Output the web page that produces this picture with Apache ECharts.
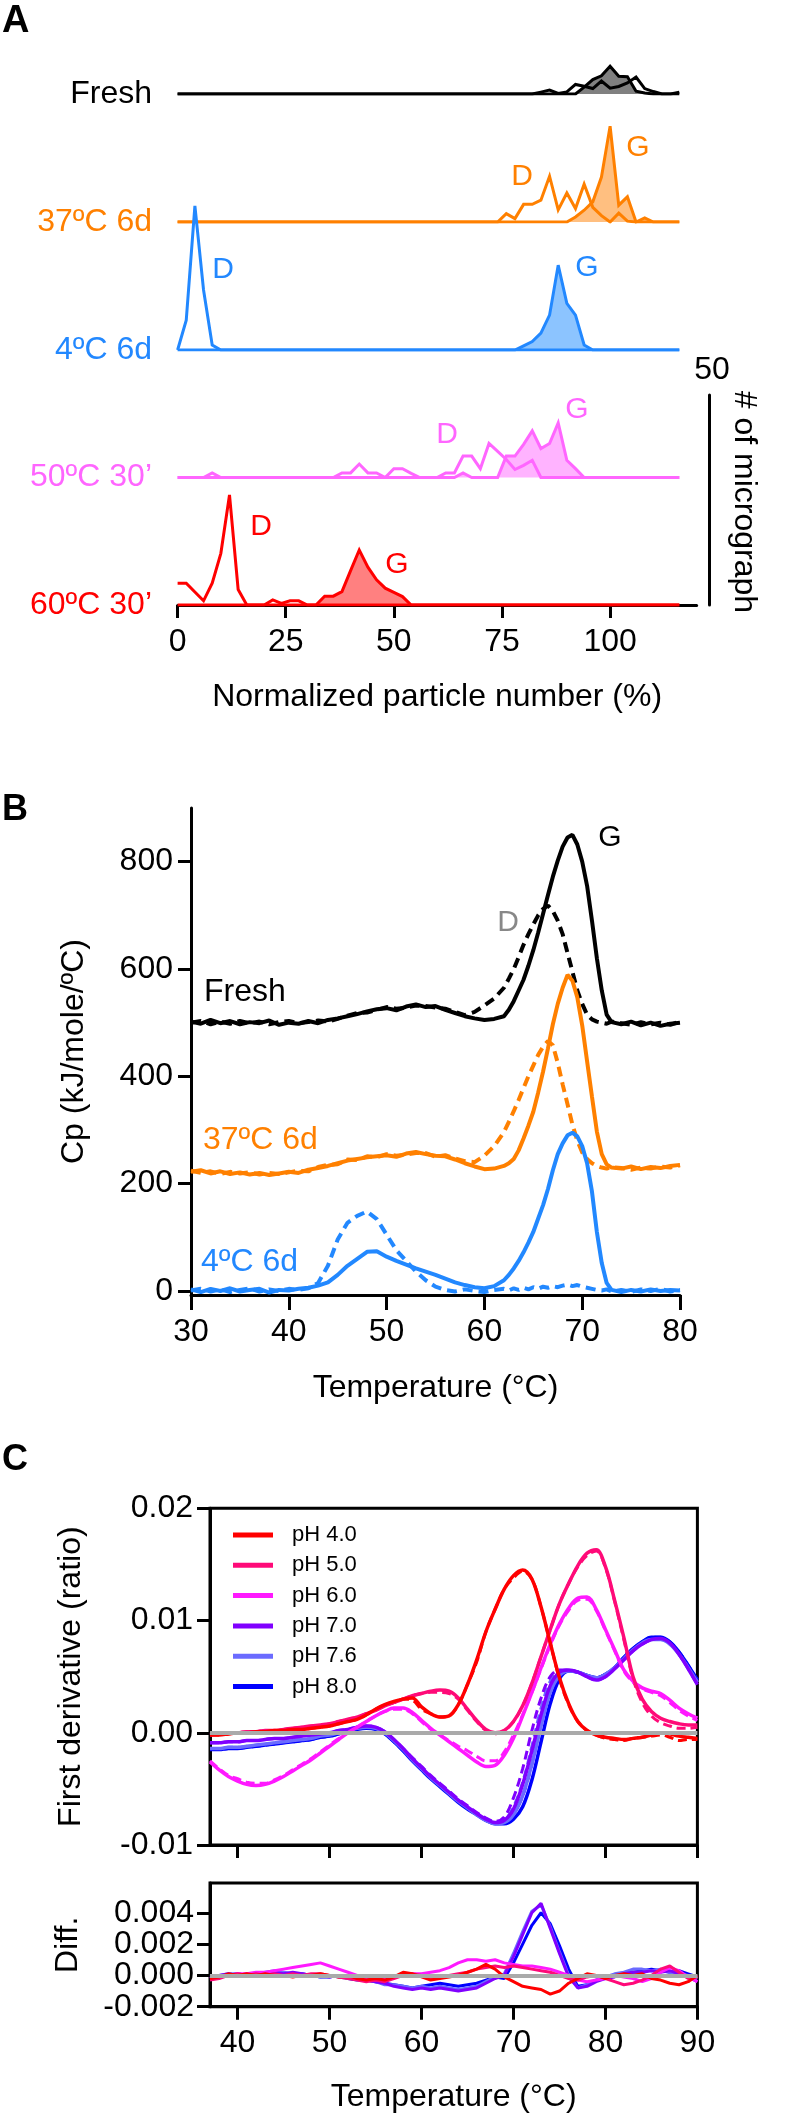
<!DOCTYPE html>
<html>
<head>
<meta charset="utf-8">
<script src="https://cdn.jsdelivr.net/npm/echarts@6/dist/echarts.min.js"></script>
<style>html,body{margin:0;padding:0;background:#fff}#c{width:797px;height:2114px}</style>
</head>
<body>
<div id="c"></div>
<script>
// ---------- Panel A data (histograms, # of micrographs per bin) ----------
const binsA = [0,2,4,6,8,10,12,14,16,18,20,22,24,26,28,30,32,34,36,38,40,42,44,46,48,50,52,54,56,58,60,62,64,66,68,70,72,74,76,78,80,82,84,86,88,90,92,94,96,98,100,102,104,106,108,110,112,114,116];
const ticksA = [0,25,50,75,100];
const freshG = [0,0,0,0,0,0,0,0,0,0,0,0,0,0,0,0,0,0,0,0,0,0,0,0,0,0,0,0,0,0,0,0,0,0,0,0,0,0,0,0,0,0,0,0,0,0,0,3.7,7.7,9.7,14.8,9.4,9.2,1.5,0.5,0,0,0,0];
const freshD = [0,0,0,0,0,0,0,0,0,0,0,0,0,0,0,0,0,0,0,0,0,0,0,0,0,0,0,0,0,0,0,0,0,0,0,0,0,0,0,0,0,0,1.0,2.1,0.3,1.1,5.1,4.1,2.9,6.9,3.1,4.0,5.9,9.0,2.9,1.3,0,0,1.0];
const d37G = [0,0,0,0,0,0,0,0,0,0,0,0,0,0,0,0,0,0,0,0,0,0,0,0,0,0,0,0,0,0,0,0,0,0,0,0,0,0,0,0,0,0,0,0,0,0,1.2,2.8,4.8,10.7,22.8,4.0,6.0,0,1.0,0,0,0,0];
const d37D = [0,0,0,0,0,0,0,0,0,0,0,0,0,0,0,0,0,0,0,0,0,0,0,0,0,0,0,0,0,0,0,0,0,0,0,0,0,0,2.0,0.8,4.2,4.2,5.2,10.9,2.9,6.9,3.2,9.0,3.5,1.5,0,2.1,0.2,0,0,0,0,0,0];
const d4G = [0,0,0,0,0,0,0,0,0,0,0,0,0,0,0,0,0,0,0,0,0,0,0,0,0,0,0,0,0,0,0,0,0,0,0,0,0,0,0,0,1.0,2.0,4.0,8.3,20.2,11.1,8.3,1.2,0,0,0,0,0,0,0,0,0,0,0];
const d4D = [0,7.1,34.3,14.3,1.2,0,0,0,0,0,0,0,0,0,0,0,0,0,0,0,0,0,0,0,0,0,0,0,0,0,0,0,0,0,0,0,0,0,0,0,0,0,0,0,0,0,0,0,0,0,0,0,0,0,0,0,0,0,0];
const m50G = [0,0,0,0,0,0,0,0,0,0,0,0,0,0,0,0,0,0,0,0,0,0,0,0,0,0,0,0,0,0,0,0,0,1.1,0,0,0,0,5.1,5.1,7.9,11.1,6.9,8.1,13.0,4.1,2.1,0,0,0,0,0,0,0,0,0,0,0,0];
const m50D = [0,0,0,0,1.1,0,0,0,0,0,0,0,0,0,0,0,0,0,0,1.1,1.1,3.2,1.1,1.1,0,2.1,2.1,1.0,0,0,0,1.1,1.1,5.1,5.1,2.1,8.1,6.2,4.3,1.9,2.9,4.1,0,0,0,0,0,0,0,0,0,0,0,0,0,0,0,0,0];
const m60G = [0,0,0,0,0,0,0,0,0,0,0,0,0,0,0,0,0,2.1,2.1,3.2,8.2,13.1,9.0,6.0,4.0,3.0,2.0,0,0,0,0,0,0,0,0,0,0,0,0,0,0,0,0,0,0,0,0,0,0,0,0,0,0,0,0,0,0,0,0];
const m60D = [5.2,5.2,3.1,1.0,5.2,12.3,26.2,3.7,0,0,0,1.2,0.4,1.0,1.0,0,0,0,0,0,0,0,0,0,0,0,0,0,0,0,0,0,0,0,0,0,0,0,0,0,0,0,0,0,0,0,0,0,0,0,0,0,0,0,0,0,0,0,0];
const condA = ['Fresh','37ºC 6d','4ºC 6d','50ºC 30’','60ºC 30’'];

// ---------- Panel B data (DSC, Cp in kJ/mole/ºC) ----------
const tempB = [30,31,32,33,34,35,36,37,38,39,40,41,42,43,44,45,46,47,48,49,50,51,52,53,54,55,56,57,58,59,60,61,62,62.5,63,63.5,64,64.5,65,65.5,66,66.5,67,67.5,68,68.5,69,69.5,70,70.5,71,71.5,72,72.5,73,74,75,76,77,78,79,80];
const cpFreshG = [502,498,505,499,503,497,501,499,504,496,500,498,503,499,505,508,512,516,521,525,527,523,530,534,529,531,524,518,512,508,505,507,512,524,540,560,580,606,635,668,703,738,772,802,828,845,850,832,800,755,690,620,560,515,501,497,502,495,500,494,498,500];
const cpFreshD = [500,503,497,502,498,503,499,502,497,501,503,499,501,504,502,507,513,518,519,524,529,526,528,532,531,528,526,520,514,520,532,545,565,582,600,622,645,665,683,700,712,718,708,690,665,630,595,560,535,515,506,502,500,498,502,499,496,501,497,500,496,502];
const cp37G = [222,225,219,223,218,221,217,220,216,219,222,220,226,229,233,238,243,246,249,251,253,250,256,259,255,252,251,245,238,232,227,228,233,238,246,262,284,308,334,370,409,452,497,535,565,589,578,547,495,428,362,297,255,236,230,228,232,227,231,229,233,235];
const cp37D = [224,220,223,218,222,219,221,217,220,218,221,224,223,231,235,236,245,244,251,249,255,252,254,257,257,250,253,247,242,240,252,270,296,315,335,356,378,400,420,440,455,466,458,425,385,348,310,280,258,246,238,233,230,228,231,229,226,230,228,232,230,234];
const cp4G = [3,-2,4,0,5,-1,2,4,-3,2,1,4,6,10,16,30,47,60,73,74,64,56,49,42,36,30,23,16,11,7,5,9,20,30,42,56,72,90,110,135,160,190,225,255,275,290,295,288,270,238,185,110,52,15,2,-2,2,-1,3,0,2,1];
const cp4D = [1,4,-1,3,-2,2,5,-1,3,0,4,2,5,15,47,96,127,140,148,134,105,76,56,36,20,8,2,-1,3,0,-2,2,4,1,5,2,6,3,7,4,8,6,9,7,10,12,9,11,8,6,4,2,1,3,-1,2,-2,3,0,4,-1,2];
const ticksBy = [0,200,400,600,800];

// ---------- Panel C data (first derivative of ratio) ----------
const tempC = [37,38,39,40,41,42,43,44,45,46,47,48,49,50,51,52,53,54,55,56,57,58,59,60,61,62,63,64,65,66,67,68,69,70,71,72,73,74,75,76,77,78,79,80,81,82,83,84,85,86,87,88,89,90];
const phNames = ['pH 4.0','pH 5.0','pH 6.0','pH 7.0','pH 7.6','pH 8.0'];
const fd40 = [-0.0002,-0.0002,-0.0001,0.0000,0.0000,0.0001,0.0001,0.0002,0.0002,0.0003,0.0003,0.0004,0.0005,0.0006,0.0008,0.0010,0.0012,0.0016,0.0021,0.0025,0.0028,0.0030,0.0031,0.0023,0.0017,0.0014,0.0015,0.0025,0.0043,0.0065,0.0090,0.0110,0.0128,0.0140,0.0145,0.0137,0.0112,0.0080,0.0049,0.0026,0.0010,0.0002,-0.0002,-0.0004,-0.0005,-0.0006,-0.0005,-0.0004,-0.0002,0.0000,-0.0001,-0.0003,-0.0004,-0.0005];
const fd40b = [-0.0002,-0.0002,-0.0001,0.0000,0.0000,0.0001,0.0001,0.0002,0.0002,0.0003,0.0003,0.0004,0.0005,0.0006,0.0008,0.0010,0.0012,0.0016,0.0021,0.0025,0.0027,0.0030,0.0029,0.0021,0.0017,0.0014,0.0015,0.0025,0.0043,0.0063,0.0090,0.0110,0.0128,0.0138,0.0144,0.0137,0.0112,0.0080,0.0048,0.0025,0.0010,0.0002,-0.0002,-0.0005,-0.0006,-0.0007,-0.0005,-0.0004,-0.0003,-0.0002,-0.0004,-0.0007,-0.0006,-0.0006];
const fd50 = [-0.0002,-0.0001,0.0000,0.0000,0.0001,0.0001,0.0002,0.0002,0.0003,0.0004,0.0005,0.0006,0.0007,0.0008,0.0010,0.0012,0.0014,0.0017,0.0020,0.0024,0.0027,0.0030,0.0033,0.0035,0.0037,0.0038,0.0037,0.0031,0.0021,0.0011,0.0003,0.0000,0.0002,0.0010,0.0024,0.0044,0.0068,0.0092,0.0115,0.0133,0.0149,0.0160,0.0163,0.0148,0.0118,0.0085,0.0050,0.0030,0.0019,0.0013,0.0010,0.0008,0.0007,0.0007];
const fd50b = [-0.0002,-0.0001,0.0000,0.0000,0.0001,0.0001,0.0002,0.0002,0.0003,0.0004,0.0005,0.0006,0.0007,0.0008,0.0010,0.0012,0.0014,0.0017,0.0020,0.0024,0.0027,0.0030,0.0033,0.0035,0.0036,0.0036,0.0035,0.0030,0.0020,0.0010,0.0002,-0.0001,0.0002,0.0010,0.0024,0.0044,0.0068,0.0092,0.0115,0.0133,0.0148,0.0158,0.0162,0.0147,0.0117,0.0083,0.0048,0.0027,0.0015,0.0009,0.0006,0.0004,0.0004,0.0005];
const fd60 = [-0.0026,-0.0033,-0.0039,-0.0043,-0.0046,-0.0047,-0.0046,-0.0043,-0.0039,-0.0034,-0.0029,-0.0024,-0.0018,-0.0012,-0.0006,0.0000,0.0005,0.0010,0.0015,0.0019,0.0022,0.0022,0.0018,0.0011,0.0004,-0.0002,-0.0008,-0.0014,-0.0020,-0.0026,-0.0030,-0.0029,-0.0020,-0.0005,0.0015,0.0036,0.0058,0.0079,0.0097,0.0111,0.0120,0.0121,0.0110,0.0092,0.0074,0.0056,0.0046,0.0040,0.0037,0.0035,0.0029,0.0022,0.0017,0.0013];
const fd60b = [-0.0025,-0.0032,-0.0038,-0.0041,-0.0044,-0.0045,-0.0045,-0.0042,-0.0038,-0.0033,-0.0028,-0.0023,-0.0017,-0.0011,-0.0005,0.0000,0.0005,0.0010,0.0015,0.0019,0.0021,0.0021,0.0017,0.0010,0.0003,-0.0002,-0.0007,-0.0012,-0.0016,-0.0021,-0.0025,-0.0025,-0.0017,-0.0002,0.0016,0.0036,0.0057,0.0078,0.0096,0.0109,0.0118,0.0119,0.0109,0.0091,0.0073,0.0055,0.0045,0.0039,0.0036,0.0033,0.0027,0.0020,0.0015,0.0011];
const fd70 = [-0.0009,-0.0009,-0.0008,-0.0008,-0.0007,-0.0007,-0.0006,-0.0005,-0.0005,-0.0004,-0.0003,-0.0002,-0.0001,0.0000,0.0002,0.0003,0.0005,0.0006,0.0005,0.0001,-0.0006,-0.0014,-0.0023,-0.0031,-0.0039,-0.0046,-0.0053,-0.0060,-0.0066,-0.0072,-0.0077,-0.0080,-0.0078,-0.0068,-0.0046,-0.0016,0.0016,0.0042,0.0054,0.0056,0.0054,0.0050,0.0047,0.0050,0.0057,0.0065,0.0073,0.0079,0.0083,0.0084,0.0080,0.0070,0.0057,0.0043];
const fd70b = [-0.0009,-0.0009,-0.0008,-0.0008,-0.0007,-0.0007,-0.0006,-0.0005,-0.0005,-0.0004,-0.0003,-0.0002,-0.0001,0.0000,0.0002,0.0003,0.0005,0.0006,0.0005,0.0001,-0.0006,-0.0014,-0.0022,-0.0030,-0.0038,-0.0045,-0.0052,-0.0059,-0.0065,-0.0071,-0.0076,-0.0079,-0.0075,-0.0058,-0.0032,0.0002,0.0031,0.0050,0.0056,0.0056,0.0054,0.0050,0.0047,0.0050,0.0057,0.0065,0.0073,0.0079,0.0083,0.0084,0.0080,0.0070,0.0057,0.0043];
const fd76 = [-0.0014,-0.0014,-0.0013,-0.0013,-0.0012,-0.0011,-0.0010,-0.0009,-0.0008,-0.0007,-0.0006,-0.0005,-0.0003,-0.0002,0.0000,0.0002,0.0004,0.0005,0.0004,0.0000,-0.0007,-0.0015,-0.0024,-0.0032,-0.0040,-0.0047,-0.0054,-0.0061,-0.0067,-0.0073,-0.0078,-0.0081,-0.0080,-0.0073,-0.0056,-0.0028,0.0006,0.0036,0.0051,0.0055,0.0054,0.0051,0.0049,0.0052,0.0058,0.0066,0.0074,0.0080,0.0083,0.0083,0.0079,0.0070,0.0058,0.0045];
const fd76b = [-0.0014,-0.0014,-0.0013,-0.0013,-0.0012,-0.0011,-0.0010,-0.0009,-0.0008,-0.0007,-0.0006,-0.0005,-0.0003,-0.0002,0.0000,0.0002,0.0004,0.0005,0.0004,0.0000,-0.0007,-0.0015,-0.0023,-0.0031,-0.0039,-0.0046,-0.0053,-0.0060,-0.0066,-0.0072,-0.0077,-0.0080,-0.0078,-0.0066,-0.0044,-0.0012,0.0022,0.0046,0.0054,0.0055,0.0054,0.0051,0.0049,0.0052,0.0058,0.0066,0.0074,0.0080,0.0083,0.0083,0.0079,0.0070,0.0058,0.0045];
const fd80 = [-0.0015,-0.0015,-0.0014,-0.0014,-0.0013,-0.0012,-0.0011,-0.0010,-0.0009,-0.0008,-0.0007,-0.0006,-0.0004,-0.0003,-0.0001,0.0001,0.0003,0.0004,0.0003,-0.0001,-0.0008,-0.0016,-0.0025,-0.0033,-0.0041,-0.0048,-0.0055,-0.0062,-0.0068,-0.0073,-0.0078,-0.0081,-0.0081,-0.0077,-0.0066,-0.0042,-0.0008,0.0026,0.0048,0.0055,0.0054,0.0051,0.0049,0.0052,0.0058,0.0067,0.0075,0.0081,0.0085,0.0085,0.0081,0.0072,0.0060,0.0047];
const fd80b = [-0.0015,-0.0015,-0.0014,-0.0014,-0.0013,-0.0012,-0.0011,-0.0010,-0.0009,-0.0008,-0.0007,-0.0006,-0.0004,-0.0003,-0.0001,0.0001,0.0003,0.0004,0.0003,-0.0001,-0.0008,-0.0016,-0.0024,-0.0032,-0.0040,-0.0047,-0.0054,-0.0061,-0.0067,-0.0072,-0.0077,-0.0080,-0.0080,-0.0072,-0.0056,-0.0028,0.0008,0.0038,0.0053,0.0055,0.0054,0.0051,0.0049,0.0052,0.0058,0.0067,0.0075,0.0081,0.0085,0.0085,0.0081,0.0072,0.0060,0.0047];
// difference curves
const df40 = [-0.0002,-0.0001,0.0001,0.0000,0.0001,0.0000,0.0001,0.0000,0.0000,-0.0001,0.0000,0.0000,0.0001,0.0000,-0.0001,0.0000,-0.0002,-0.0003,-0.0002,-0.0003,-0.0001,0.0002,0.0001,-0.0001,-0.0003,-0.0002,-0.0001,0.0000,0.0002,0.0004,0.0007,0.0004,-0.0001,-0.0004,-0.0007,-0.0008,-0.0009,-0.0012,-0.0010,-0.0005,-0.0002,0.0001,0.0000,-0.0002,0.0000,0.0001,0.0000,0.0001,-0.0002,-0.0003,-0.0005,-0.0006,-0.0004,0.0000];
const df50 = [-0.0003,-0.0002,0.0000,0.0001,0.0000,0.0001,0.0000,0.0001,0.0000,0.0001,0.0000,0.0001,0.0001,0.0000,-0.0001,-0.0002,-0.0003,-0.0004,-0.0003,-0.0004,-0.0002,0.0000,0.0001,0.0000,-0.0002,-0.0001,0.0000,0.0001,0.0002,0.0004,0.0005,0.0006,0.0005,0.0006,0.0005,0.0004,0.0003,0.0002,0.0000,-0.0002,-0.0003,-0.0001,0.0000,-0.0002,-0.0004,-0.0006,-0.0005,-0.0003,0.0000,0.0004,0.0006,0.0002,-0.0002,-0.0001];
const df60 = [-0.0002,-0.0001,0.0000,0.0001,0.0001,0.0002,0.0002,0.0003,0.0004,0.0005,0.0006,0.0007,0.0008,0.0006,0.0004,0.0002,0.0000,-0.0002,-0.0003,-0.0002,-0.0001,0.0000,0.0001,0.0001,0.0002,0.0003,0.0005,0.0008,0.0010,0.0010,0.0009,0.0010,0.0008,0.0007,0.0006,0.0006,0.0005,0.0004,0.0002,0.0000,-0.0003,-0.0004,-0.0003,-0.0002,0.0000,-0.0001,-0.0002,-0.0004,-0.0002,0.0002,0.0005,0.0003,-0.0001,-0.0004];
const df70 = [-0.0002,0.0000,0.0001,0.0000,0.0001,0.0000,0.0001,0.0002,0.0001,0.0002,0.0001,0.0000,0.0000,-0.0001,0.0000,-0.0001,-0.0002,-0.0003,-0.0004,-0.0005,-0.0007,-0.0008,-0.0009,-0.0008,-0.0009,-0.0008,-0.0009,-0.0010,-0.0009,-0.0008,-0.0005,-0.0002,0.0000,0.0012,0.0026,0.0040,0.0046,0.0030,0.0014,-0.0001,-0.0008,-0.0007,-0.0004,-0.0002,-0.0001,0.0001,0.0002,0.0002,0.0003,0.0002,0.0003,0.0001,-0.0001,-0.0004];
const df76 = [-0.0001,0.0000,0.0001,0.0001,0.0000,0.0001,0.0002,0.0003,0.0002,0.0001,0.0001,0.0000,-0.0001,0.0000,-0.0001,-0.0002,-0.0002,-0.0003,-0.0004,-0.0006,-0.0006,-0.0007,-0.0008,-0.0007,-0.0008,-0.0007,-0.0008,-0.0009,-0.0008,-0.0007,-0.0004,-0.0001,0.0001,0.0014,0.0028,0.0041,0.0045,0.0031,0.0015,0.0000,-0.0008,-0.0006,-0.0003,-0.0001,0.0001,0.0002,0.0004,0.0004,0.0003,0.0004,0.0002,0.0001,0.0000,-0.0002];
const df80 = [-0.0002,-0.0001,0.0000,0.0001,0.0000,0.0001,0.0000,0.0001,0.0001,0.0000,0.0001,0.0000,-0.0001,-0.0001,0.0000,-0.0002,-0.0003,-0.0003,-0.0004,-0.0005,-0.0006,-0.0007,-0.0008,-0.0007,-0.0006,-0.0005,-0.0006,-0.0007,-0.0006,-0.0005,-0.0003,-0.0001,-0.0002,0.0008,0.0020,0.0032,0.0040,0.0033,0.0019,0.0004,-0.0007,-0.0006,-0.0003,-0.0001,0.0000,0.0001,0.0002,0.0003,0.0004,0.0003,0.0002,0.0003,0.0001,-0.0001];
const ticksCx = [40,50,60,70,80,90];
const ticksCdiffA = [-0.002,0.002];   // diff-axis ticks, split over two overlaid axes
const ticksCdiffB = [0,0.004];        // so the closely spaced labels are never auto-hidden

// ---------- styling / layout ----------
const FONT = "'Liberation Sans', Arial, Helvetica, sans-serif";
const colA = ['#000000','#FF8000','#2288FF','#FF66FF','#FF0000'];
const fillA = ['#808080','#FFBF80','#8CC4FF','#FFB3FF','#FF8080'];
const baseA = [94, 222, 350, 477.5, 605];
const colC = ['#FF0000','#FF0A78','#FF19FF','#8000FF','#6B6BFF','#0000FF'];

const zip = (xs, ys) => xs.map((x, k) => [x, ys[k]]);
const gA = [freshG, d37G, d4G, m50G, m60G];
const dA = [freshD, d37D, d4D, m50D, m60D];

const grid = [], xAxis = [], yAxis = [], series = [];
const txt = (extra) => Object.assign({color:'#000', fontFamily: FONT, fontSize: 32}, extra || {});

// Panel A grids
baseA.forEach((b, i) => {
  grid.push({left: 177.6, width: 519, top: b - 210, height: 210});
  const last = i === 4;
  xAxis.push({gridIndex: i, type: 'value', min: 0, max: 120, show: last,
    axisLine: {onZero: false, lineStyle: {color: '#000', width: 3}},
    axisTick: {customValues: ticksA, length: 13, lineStyle: {color: '#000', width: 3}},
    axisLabel: Object.assign(txt({margin: 21}), {customValues: ticksA}),
    splitLine: {show: false},
    name: last ? 'Normalized particle number (%)' : '', nameLocation: 'middle', nameGap: 76,
    nameTextStyle: txt()});
  // the last one acts as the 50-micrograph scale bar on the right
  yAxis.push({gridIndex: i, type: 'value', min: 0, max: 50, show: last, position: 'right', offset: 12.4,
    axisLine: {show: true, onZero: false, lineStyle: {color: '#000', width: 3}},
    axisTick: {show: false}, axisLabel: {show: false}, splitLine: {show: false}});
  series.push({type: 'line', name: condA[i] + ' G', xAxisIndex: i, yAxisIndex: i, data: zip(binsA, gA[i]),
    symbol: 'none', z: 2, lineStyle: {color: colA[i], width: 3, join: 'miter', miterLimit: 4},
    itemStyle: {color: colA[i]}, areaStyle: {color: fillA[i], opacity: 1}});
  series.push({type: 'line', name: condA[i] + ' D', xAxisIndex: i, yAxisIndex: i, data: zip(binsA, dA[i]),
    symbol: 'none', z: 3, lineStyle: {color: colA[i], width: 3, join: 'miter', miterLimit: 4},
    itemStyle: {color: colA[i]}});
});

// Panel B grid (index 5)
grid.push({left: 191, top: 808, width: 489, height: 487});
xAxis.push({gridIndex: 5, type: 'value', min: 30, max: 80, interval: 10,
  axisLine: {onZero: false, lineStyle: {color: '#000', width: 3}},
  axisTick: {length: 15, lineStyle: {color: '#000', width: 3}},
  axisLabel: txt({margin: 21}), splitLine: {show: false},
  name: 'Temperature (°C)', nameLocation: 'middle', nameGap: 77, nameTextStyle: txt()});
yAxis.push({gridIndex: 5, type: 'value', min: -7.5, max: 900,
  axisLine: {show: true, onZero: false, lineStyle: {color: '#000', width: 3}},
  axisTick: {show: true, customValues: ticksBy, length: 13, lineStyle: {color: '#000', width: 3}},
  axisLabel: Object.assign(txt({margin: 18}), {customValues: ticksBy}), splitLine: {show: false},
  name: 'Cp (kJ/mole/ºC)', nameLocation: 'middle', nameGap: 101, nameTextStyle: txt()});
const bSeries = [
  ['Fresh G', cpFreshG, colA[0], 'solid'], ['Fresh D', cpFreshD, colA[0], [10, 6]],
  ['37ºC 6d G', cp37G, colA[1], 'solid'], ['37ºC 6d D', cp37D, colA[1], [10, 6]],
  ['4ºC 6d G', cp4G, colA[2], 'solid'], ['4ºC 6d D', cp4D, colA[2], [10, 6]]];
bSeries.forEach(s => series.push({type: 'line', name: 'DSC ' + s[0], xAxisIndex: 5, yAxisIndex: 5,
  data: zip(tempB, s[1]), symbol: 'none', z: 3,
  lineStyle: {color: s[2], width: 4, type: s[3]}, itemStyle: {color: s[2]}}));

// Panel C main (6) and diff (7)
grid.push({left: 210, top: 1508.3, width: 487.4, height: 336.7, show: true, borderColor: '#000', borderWidth: 3, backgroundColor: 'transparent'});
grid.push({left: 210, top: 1883, width: 487.4, height: 123.7, show: true, borderColor: '#000', borderWidth: 3, backgroundColor: 'transparent'});
xAxis.push({gridIndex: 6, type: 'value', min: 37, max: 90,
  axisLine: {onZero: false, lineStyle: {color: '#000', width: 3}},
  axisTick: {customValues: ticksCx, length: 13, lineStyle: {color: '#000', width: 3}},
  axisLabel: {show: false}, splitLine: {show: false}});
xAxis.push({gridIndex: 7, type: 'value', min: 37, max: 90,
  axisLine: {onZero: false, lineStyle: {color: '#000', width: 3}},
  axisTick: {customValues: ticksCx, length: 13, lineStyle: {color: '#000', width: 3}},
  axisLabel: Object.assign(txt({margin: 20, showMinLabel: true, showMaxLabel: true}), {customValues: ticksCx}),
  splitLine: {show: false},
  name: 'Temperature (°C)', nameLocation: 'middle', nameGap: 74, nameTextStyle: txt()});
yAxis.push({gridIndex: 6, type: 'value', min: -0.01, max: 0.02, interval: 0.01,
  axisLine: {show: true, onZero: false, lineStyle: {color: '#000', width: 3}},
  axisTick: {show: true, length: 13, lineStyle: {color: '#000', width: 3}},
  axisLabel: txt({margin: 17, showMinLabel: true, showMaxLabel: true, formatter: v => v.toFixed(2)}),
  splitLine: {show: false},
  name: 'First derivative (ratio)', nameLocation: 'middle', nameGap: 123, nameTextStyle: txt()});
yAxis.push({gridIndex: 7, type: 'value', min: -0.002, max: 0.0059, position: 'left',
  axisLine: {show: true, onZero: false, lineStyle: {color: '#000', width: 3}},
  axisTick: {show: true, customValues: ticksCdiffA, length: 13, lineStyle: {color: '#000', width: 3}},
  axisLabel: Object.assign(txt({margin: 16, showMinLabel: true, showMaxLabel: true,
    formatter: v => v.toFixed(3)}), {customValues: ticksCdiffA}),
  splitLine: {show: false},
  name: 'Diff.', nameLocation: 'middle', nameGap: 126, nameTextStyle: txt()});
// overlay axis (index 8) carrying the other two diff ticks/labels
yAxis.push({gridIndex: 7, type: 'value', min: -0.002, max: 0.0059, position: 'left', offset: 0,
  axisLine: {show: false, onZero: false},
  axisTick: {show: true, customValues: ticksCdiffB, length: 13, lineStyle: {color: '#000', width: 3}},
  axisLabel: Object.assign(txt({margin: 16, showMinLabel: true, showMaxLabel: true,
    formatter: v => v.toFixed(3)}), {customValues: ticksCdiffB}),
  splitLine: {show: false}});

[6, 7].forEach(g => series.push({type: 'line', name: 'zero' + g, xAxisIndex: g, yAxisIndex: g, data: [], z: 1,
  markLine: {silent: true, symbol: ['none', 'none'], label: {show: false}, animation: false,
    lineStyle: {color: '#AAAAAA', width: 4, type: 'solid'}, data: [{yAxis: 0}]}}));

const mainC = [[fd40, fd40b], [fd50, fd50b], [fd60, fd60b], [fd70, fd70b], [fd76, fd76b], [fd80, fd80b]];
const diffC = [df40, df50, df60, df70, df76, df80];
const order = [5, 4, 3, 2, 1, 0];
order.forEach(k => {
  series.push({type: 'line', name: phNames[k] + ' dashed', xAxisIndex: 6, yAxisIndex: 6, data: zip(tempC, mainC[k][1]),
    symbol: 'none', smooth: 0.35, z: 3, color: colC[k], lineStyle: {color: colC[k], width: 3, type: [9, 5]}});
  series.push({type: 'line', name: phNames[k], xAxisIndex: 6, yAxisIndex: 6, data: zip(tempC, mainC[k][0]),
    symbol: 'none', smooth: 0.35, z: 4, color: colC[k], lineStyle: {color: colC[k], width: 3.5}});
});
order.forEach(k => series.push({type: 'line', name: phNames[k] + ' diff', xAxisIndex: 7, yAxisIndex: 7,
  data: zip(tempC, diffC[k]), symbol: 'none', z: 3, color: colC[k], lineStyle: {color: colC[k], width: 3}}));

// text annotations
const T = (text, x, y, color, opts) => Object.assign({type: 'text', x: x, y: y, silent: true,
  style: Object.assign({text: text, fill: color, fontSize: 32, fontFamily: FONT,
    textAlign: 'center', textVerticalAlign: 'middle'}, (opts && opts.style) || {})},
  (opts && opts.el) || {});
const right = {style: {textAlign: 'right'}};
const leftA = {style: {textAlign: 'left'}};
const graphic = [
  T('A', 2, 22, '#000', {style: {textAlign: 'left', fontWeight: 'bold', fontSize: 38}}),
  T('B', 2, 810, '#000', {style: {textAlign: 'left', fontWeight: 'bold', fontSize: 36}}),
  T('C', 2, 1460, '#000', {style: {textAlign: 'left', fontWeight: 'bold', fontSize: 36}}),
  T(condA[0], 152, 94, colA[0], right),
  T(condA[1], 152, 222, colA[1], right),
  T(condA[2], 152, 350, colA[2], right),
  T(condA[3], 152, 477, colA[3], right),
  T(condA[4], 152, 605, colA[4], right),
  T('D', 522, 177, colA[1], {style: {fontSize: 30}}), T('G', 638, 148, colA[1], {style: {fontSize: 30}}),
  T('D', 223, 270, colA[2], {style: {fontSize: 30}}), T('G', 587, 268, colA[2], {style: {fontSize: 30}}),
  T('D', 447, 435, colA[3], {style: {fontSize: 30}}), T('G', 577, 410, colA[3], {style: {fontSize: 30}}),
  T('D', 261, 527, colA[4], {style: {fontSize: 30}}), T('G', 397, 565, colA[4], {style: {fontSize: 30}}),
  T('50', 712, 370, '#000'),
  T('# of micrograph', 744, 502, '#000', {el: {rotation: -Math.PI / 2}}),
  T('Fresh', 204, 992, colA[0], leftA),
  T('37ºC 6d', 203, 1140, colA[1], leftA),
  T('4ºC 6d', 201, 1262, colA[2], leftA),
  T('D', 508, 923, '#888888', {style: {fontSize: 30}}),
  T('G', 610, 838, '#000', {style: {fontSize: 30}})
];

const chart = echarts.init(document.getElementById('c'), null, {renderer: 'canvas'});
chart.setOption({
  animation: false,
  backgroundColor: '#ffffff',
  textStyle: {fontFamily: FONT},
  grid: grid, xAxis: xAxis, yAxis: yAxis, series: series,
  legend: {data: phNames, orient: 'vertical', left: 228, top: 1519, icon: 'rect', itemWidth: 40, itemHeight: 5,
    itemGap: 8.3, selectedMode: false,
    textStyle: {fontSize: 22, fontFamily: FONT, color: '#000', lineHeight: 22, padding: [0, 0, 0, 14]}},
  graphic: graphic
});
</script>
</body>
</html>
